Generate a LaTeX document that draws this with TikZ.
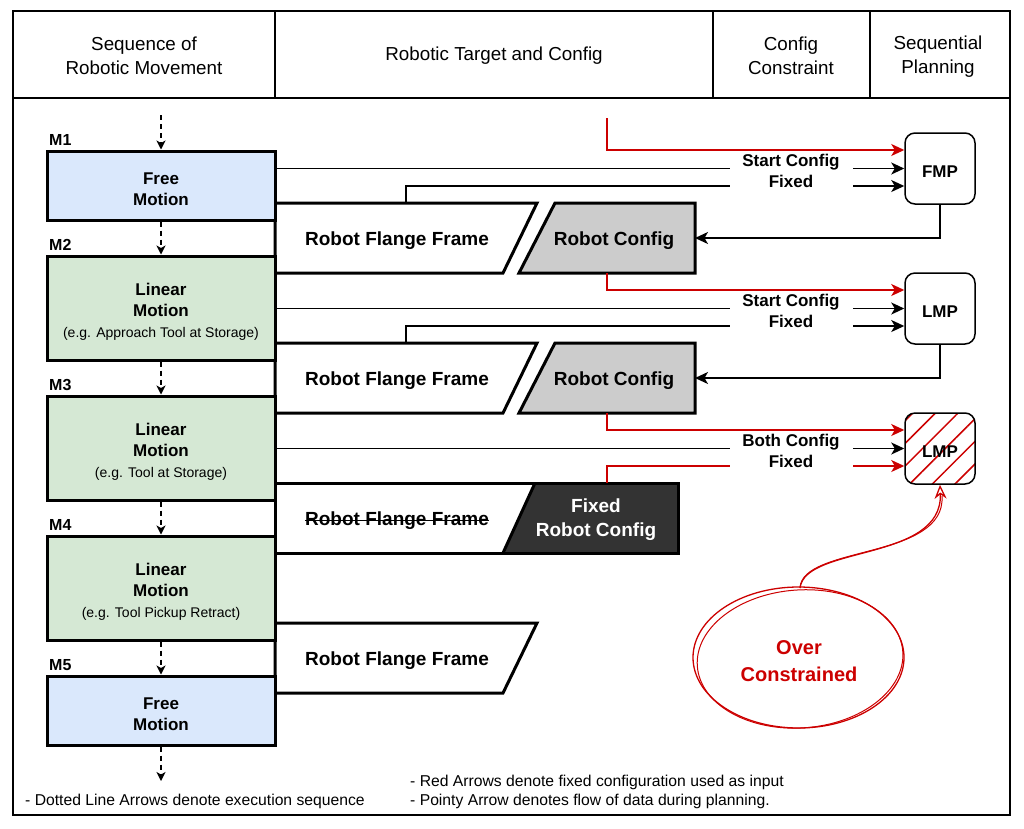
\documentclass[tikz,border=0pt]{standalone}
\usepackage{fontspec}
\setmainfont{Liberation Sans}
\usetikzlibrary{arrows.meta,patterns.meta,calc}
\definecolor{fmblue}{HTML}{DAE8FC}
\definecolor{lmgreen}{HTML}{D5E8D4}
\definecolor{cfgray}{HTML}{CCCCCC}
\definecolor{fixdark}{HTML}{333333}
\definecolor{cred}{HTML}{CC0000}
\newcommand{\fsz}[2]{\fontsize{#1}{#2}\selectfont}
\begin{document}
\begin{tikzpicture}[x=1pt,y=-1pt,
  mbox/.style={draw, line width=3pt, minimum width=228pt},
  mtext/.style={inner sep=0pt, align=center, font=\bfseries\fsz{17}{21}},
  mlabel/.style={anchor=west, inner sep=0pt, font=\bfseries\fsz{16}{19}},
  planbox/.style={draw, line width=1.5pt, rounded corners=10pt, minimum width=70pt, minimum height=71pt, text height=17pt, text depth=0pt, font=\bfseries\fsz{17}{21}},
  shapebox/.style={draw, line width=3pt, line join=miter},
  bigtxt/.style={inner sep=0pt, align=center, font=\bfseries\fsz{19}{24}},
  hdr/.style={inner sep=0pt, align=center, font=\fsz{18.8}{24}},
  lbl/.style={fill=white, inner sep=0pt, minimum width=123pt, minimum height=40pt, align=center, font=\bfseries\fsz{17}{21}},
  seq/.style={line width=1.5pt, dash pattern=on 5pt off 4pt, -{Stealth[length=9pt,width=9pt,inset=2.5pt]}},
  blkarr/.style={line width=1.5pt, -{Stealth[length=13pt,width=12pt,inset=3.5pt]}},
  redarr/.style={line width=1.5pt, cred, -{Stealth[length=13pt,width=12pt,inset=3.5pt]}},
  note/.style={anchor=west, inner sep=0pt, font=\fsz{15.7}{18}}]
\useasboundingbox (0,0) rectangle (1024,828);
% frame and header
\draw[line width=2pt] (13,11) rectangle (1010,815);
\draw[line width=2.5pt] (13,98) -- (1010,98);
\draw[line width=1.5pt] (275,11) -- (275,98) (713,11) -- (713,98) (870,11) -- (870,98);
\node[hdr] (h1) at (144,56) {Sequence of\\Robotic Movement};
\node[hdr] (h2) at (494,56) {Robotic Target and Config};
\node[hdr] (h3) at (791,56) {Config\\Constraint};
\node[hdr] (h4) at (938,57) {Sequential\\Planning};

% flange / config shapes
\draw[shapebox, fill=white] (275,203) -- (537,203) -- (503,273) -- (275,273) -- cycle;
\draw[shapebox, fill=cfgray] (555,203) -- (695,203) -- (695,273) -- (519,273) -- cycle;
\node[bigtxt] (ff1) at (397,241) {Robot Flange Frame};
\node[bigtxt] (rc1) at (614,241) {Robot Config};
\coordinate (ff1top) at (406,203);
\coordinate (rc1e) at (695,238);
\coordinate (rc1b) at (607,273);

\draw[shapebox, fill=white] (275,343) -- (537,343) -- (503,413) -- (275,413) -- cycle;
\draw[shapebox, fill=cfgray] (555,343) -- (695,343) -- (695,413) -- (519,413) -- cycle;
\node[bigtxt] (ff2) at (397,381) {Robot Flange Frame};
\node[bigtxt] (rc2) at (614,381) {Robot Config};
\coordinate (ff2top) at (406,343);
\coordinate (rc2e) at (695,378);
\coordinate (rc2b) at (607,413);

\fill[white] (275,483) rectangle (678,553);
\fill[fixdark] (535,483) -- (678,483) -- (678,553) -- (503,553) -- cycle;
\draw[line width=3pt] (535,483) -- (503,553);
\draw[shapebox] (275,483) rectangle (678,553);
\node[bigtxt] (ff3) at (397,521) {Robot Flange Frame};
\draw[line width=1.5pt] ([yshift=5.5pt]ff3.base west) -- ([yshift=5.5pt]ff3.base east);
\node[bigtxt, text=white] (fix) at (596,520) {Fixed\\Robot Config};
\coordinate (fixtop) at (607,483);

\draw[shapebox, fill=white] (275,623) -- (537,623) -- (503,693) -- (275,693) -- cycle;
\node[bigtxt] (ff4) at (397,661) {Robot Flange Frame};

% motion boxes
\node[mbox, fill=fmblue, minimum height=69pt] (m1) at (161,185.5) {};
\node[mbox, fill=lmgreen, minimum height=104pt] (m2) at (161,308) {};
\node[mbox, fill=lmgreen, minimum height=104pt] (m3) at (161,448) {};
\node[mbox, fill=lmgreen, minimum height=104pt] (m4) at (161,588) {};
\node[mbox, fill=fmblue, minimum height=69pt] (m5) at (161,710.5) {};
\node[mtext] (t1) at (161,189) {Free\\Motion};
\node[mtext] (t2) at (161,312) {Linear\\Motion\\{\mdseries\fsz{14}{20}(e.g. Approach Tool at Storage)}};
\node[mtext] (t3) at (161,452) {Linear\\Motion\\{\mdseries\fsz{14}{20}(e.g. Tool at Storage)}};
\node[mtext] (t4) at (161,592) {Linear\\Motion\\{\mdseries\fsz{14}{20}(e.g. Tool Pickup Retract)}};
\node[mtext] (t5) at (161,714) {Free\\Motion};
\node[mlabel] (lm1) at (49,140) {M1};
\node[mlabel] (lm2) at (49,245) {M2};
\node[mlabel] (lm3) at (49,385) {M3};
\node[mlabel] (lm4) at (49,525) {M4};
\node[mlabel] (lm5) at (49,665) {M5};

% sequence arrows
\coordinate (s0) at (161,115);
\coordinate (s6) at (161,781);
\draw[seq] (s0) -- (m1.north);
\draw[seq] (m1.south) -- (m2.north);
\draw[seq] (m2.south) -- (m3.north);
\draw[seq] (m3.south) -- (m4.north);
\draw[seq] (m4.south) -- (m5.north);
\draw[seq] (m5.south) -- (s6);

% planners
\node[planbox] (fmp) at (940,168.5) {FMP};
\node[planbox] (lmp1) at (940,308.5) {LMP};
\node[planbox, pattern={Lines[angle=45,distance=16pt,line width=1.5pt]}, pattern color=cred] (lmp2) at (940,448.5) {LMP};

% connectors FMP
\coordinate (r0) at (607,118);
\draw[redarr] (r0) |- ([yshift=18.5pt]fmp.west);
\draw[blkarr] (m1.east |- fmp.west) -- (fmp.west);
\draw[blkarr] (ff1top) |- ([yshift=-17.5pt]fmp.west);
\draw[blkarr] (fmp.south) |- (rc1e);
% connectors LMP1
\draw[redarr] (rc1b) |- ([yshift=18.5pt]lmp1.west);
\draw[blkarr] (m2.east |- lmp1.west) -- (lmp1.west);
\draw[blkarr] (ff2top) |- ([yshift=-17.5pt]lmp1.west);
\draw[blkarr] (lmp1.south) |- (rc2e);
% connectors LMP2
\draw[redarr] (rc2b) |- ([yshift=18.5pt]lmp2.west);
\draw[blkarr] (m3.east |- lmp2.west) -- (lmp2.west);
\draw[redarr] (fixtop) |- ([yshift=-17.5pt]lmp2.west);

% constraint labels
\node[lbl] (c1) at (791,171) {Start Config\\Fixed};
\node[lbl] (c2) at (791,311) {Start Config\\Fixed};
\node[lbl] (c3) at (791,451) {Both Config\\Fixed};

% over constrained
\node[inner sep=0pt, align=center, text=cred, font=\bfseries\fsz{20}{27}] (oc) at (799,661) {Over\\Constrained};
\draw[cred, line width=1.3pt] (798.5,657.5) ellipse [x radius=105.5pt, y radius=70.5pt];
\draw[cred, line width=1pt, rotate around={4:(799,658)}] (800,659) ellipse [x radius=103pt, y radius=69pt];
\coordinate (octop) at (800,588);
\draw[cred, line width=1pt] (octop) .. controls (802,545) and (946,560) .. (942,496);
\draw[cred, line width=1.3pt, -{Stealth[open,length=14pt,width=12pt]}] (octop) .. controls (805,545) and (943,562) .. (lmp2.south);

% notes
\node[note] (n1) at (25,801) {- Dotted Line Arrows denote execution sequence};
\node[note] (n2) at (410,782) {- Red Arrows denote fixed configuration used as input};
\node[note] (n3) at (410,801) {- Pointy Arrow denotes flow of data during planning.};
\end{tikzpicture}
\end{document}
